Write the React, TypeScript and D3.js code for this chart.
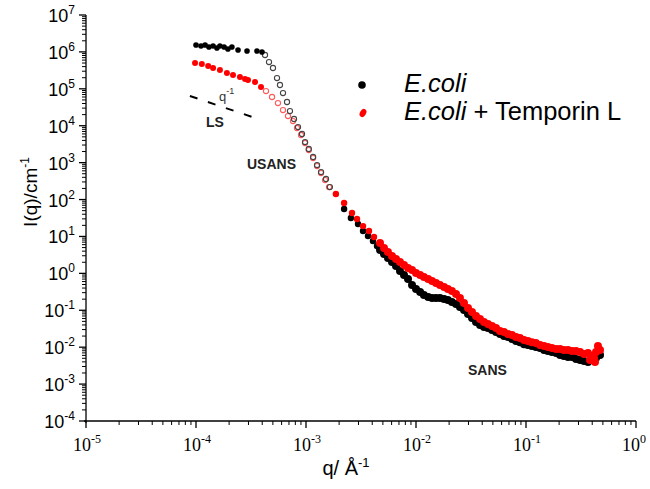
import React from "react";
import * as d3 from "d3";

const width = 650;
const height = 489;
const space = { left: 86, right: 636, top: 15, bottom: 421 };

// E.coli - light scattering (filled)
const ecoliLsQ = [1.0e-4, 1.11e-4, 1.21e-4, 1.31e-4, 1.43e-4, 1.55e-4, 1.65e-4, 1.8e-4, 1.95e-4, 2.12e-4, 2.41e-4, 2.91e-4, 3.58e-4, 3.98e-4];
const ecoliLsI = [1.54e6, 1.45e6, 1.54e6, 1.36e6, 1.45e6, 1.28e6, 1.45e6, 1.36e6, 1.2e6, 1.36e6, 1.13e6, 1.06e6, 1.06e6, 9.9e5];
// E.coli - USANS (open)
const ecoliUsansQ = [4.24e-4, 4.61e-4, 5.01e-4, 5.45e-4, 5.8e-4, 6.18e-4, 6.72e-4, 7.15e-4, 7.78e-4, 8.46e-4, 9.2e-4, 9.8e-4, 1.06e-3, 1.16e-3, 1.26e-3, 1.37e-3, 1.52e-3, 1.65e-3];
const ecoliUsansI = [8.24e5, 5.32e5, 3.66e5, 1.96e5, 1.27e5, 7.69e4, 4.39e4, 2.5e4, 1.52e4, 9.2e3, 5.96e3, 3.61e3, 2.34e3, 1.42e3, 861, 556, 360, 218];
// E.coli - SANS start (filled)
const ecoliMidQ = [2.22e-3, 2.56e-3, 2.97e-3, 3.3e-3, 3.66e-3, 4.06e-3, 4.42e-3];
const ecoliMidI = [55.3, 31.5, 21.7, 14.0, 10.3, 7.5, 5.5];

// E.coli + Temporin L
const temporinLsQ = [9.8e-5, 1.13e-4, 1.29e-4, 1.43e-4, 1.65e-4, 1.91e-4, 2.17e-4, 2.51e-4, 2.79e-4, 2.97e-4, 3.44e-4, 3.9e-4];
const temporinLsI = [5.0e5, 4.7e5, 4.15e5, 3.66e5, 3.23e5, 2.68e5, 2.37e5, 2.09e5, 1.85e5, 1.73e5, 1.53e5, 1.12e5];
const temporinUsansQ = [4.33e-4, 4.91e-4, 5.56e-4, 6.18e-4, 6.86e-4, 7.62e-4, 8.28e-4, 9.01e-4, 9.8e-4, 1.06e-3, 1.16e-3, 1.26e-3, 1.37e-3, 1.49e-3, 1.62e-3];
const temporinUsansI = [8.71e4, 6.0e4, 4.12e4, 2.66e4, 1.83e4, 1.34e4, 8.67e3, 5.6e3, 3.4e3, 2.19e3, 1.33e3, 809, 523, 337, 218];
const temporinMidQ = [1.87e-3, 2.22e-3, 2.62e-3, 2.91e-3, 3.3e-3, 3.74e-3, 4.15e-3];
const temporinMidI = [141, 80.4, 43.1, 29.6, 19.1, 14.0, 9.64];
const temporinTailQ = [0.382, 0.424, 0.451, 0.415];
const temporinTailI = [0.00447, 0.00394, 0.0107, 0.00507];

// SANS, shared q grid
const sansQ = [4.71e-3, 5.12e-3, 5.56e-3, 6.05e-3, 6.58e-3, 7.15e-3, 7.78e-3, 8.46e-3, 9.2e-3, 1.0e-2, 1.09e-2, 1.18e-2, 1.29e-2, 1.4e-2, 1.52e-2, 1.65e-2, 1.8e-2, 1.95e-2, 2.12e-2, 2.31e-2, 2.51e-2, 2.73e-2, 2.97e-2, 3.23e-2, 3.51e-2, 3.82e-2, 4.15e-2, 4.51e-2, 4.91e-2, 5.34e-2, 5.8e-2, 6.31e-2, 6.86e-2, 7.46e-2, 8.11e-2, 8.81e-2, 9.59e-2, 0.104, 0.113, 0.123, 0.134, 0.146, 0.158, 0.172, 0.188, 0.204, 0.221, 0.241, 0.262, 0.285, 0.31, 0.337, 0.366, 0.398, 0.433, 0.471];
const ecoliSansI = [4.28, 3.33, 2.6, 2.02, 1.58, 1.15, 0.9, 0.701, 0.482, 0.376, 0.311, 0.258, 0.228, 0.214, 0.214, 0.214, 0.201, 0.189, 0.167, 0.147, 0.122, 0.101, 0.0789, 0.0615, 0.0479, 0.0397, 0.0351, 0.033, 0.029, 0.0256, 0.0226, 0.02, 0.0188, 0.0166, 0.0146, 0.0137, 0.0121, 0.0114, 0.0107, 0.0101, 0.00946, 0.00834, 0.00784, 0.00736, 0.00692, 0.00611, 0.00574, 0.0054, 0.0054, 0.00476, 0.00447, 0.0042, 0.00394, 0.00447, 0.00507, 0.00611];
const temporinSansI = [6.62, 4.85, 3.78, 2.94, 2.44, 2.02, 1.68, 1.39, 1.23, 1.02, 0.9, 0.794, 0.701, 0.618, 0.546, 0.482, 0.426, 0.376, 0.331, 0.275, 0.214, 0.157, 0.115, 0.0894, 0.0697, 0.0578, 0.0479, 0.0423, 0.0373, 0.033, 0.0273, 0.0256, 0.0226, 0.0213, 0.0188, 0.0177, 0.0156, 0.0146, 0.0137, 0.0129, 0.0114, 0.0107, 0.0101, 0.00946, 0.00889, 0.00889, 0.00834, 0.00834, 0.00784, 0.00784, 0.00736, 0.0065, 0.00692, 0.00574, 0.00736, 0.00834];

// q^-1 guide line
const guideQ = [8.8e-5, 3.2e-4];
const guideI = [6.4e4, 1.75e4];

const xExponents = [-5, -4, -3, -2, -1, 0];
const yExponents = [-4, -3, -2, -1, 0, 1, 2, 3, 4, 5, 6, 7];

const sans = "'Liberation Sans', Arial, sans-serif";
const serif = "'Liberation Serif', 'Times New Roman', serif";

const x = d3.scaleLog().domain([1e-5, 1]).range([space.left, space.right]);
const y = d3.scaleLog().domain([1e-4, 1e7]).range([space.bottom, space.top]);

const zip = (q: number[], I: number[]) => q.map((d, i) => [d, I[i]]);
const minors = (lo: number, hi: number) =>
  d3.range(lo, hi).flatMap((e) => d3.range(2, 10).map((m) => m * Math.pow(10, e)));

const Dots = ({ data, r, fill, stroke }: any) => (
  <g>
    {data.map((d: number[], i: number) => (
      <circle
        key={i}
        cx={x(d[0])}
        cy={y(d[1])}
        r={r}
        fill={fill}
        stroke={stroke || "none"}
        strokeWidth={stroke ? 1.1 : 0}
      />
    ))}
  </g>
);

export default function App() {
  const guide = d3.line<number[]>().x((d) => x(d[0])).y((d) => y(d[1]))(zip(guideQ, guideI));

  return (
    <svg
      width={width}
      height={height}
      viewBox={`0 0 ${width} ${height}`}
      style={{ position: "absolute", left: 0, top: 0, background: "#fff" }}
    >
      {/* y axis */}
      <g stroke="#000" strokeWidth={1.3}>
        <line x1={space.left} x2={space.left} y1={space.top} y2={space.bottom + 2} />
        {yExponents.map((e) => (
          <line key={e} x1={space.left - 7} x2={space.left} y1={y(Math.pow(10, e))} y2={y(Math.pow(10, e))} />
        ))}
        {minors(-4, 7).map((v, i) => (
          <line key={i} x1={space.left - 4} x2={space.left} y1={y(v)} y2={y(v)} strokeWidth={1} />
        ))}
      </g>
      <g fontFamily={sans} fontSize={18} fill="#000">
        {yExponents.map((e) => (
          <text key={e} x={75} y={y(Math.pow(10, e)) + 7} textAnchor="end">
            10<tspan dy={-8} fontSize={12}>{e}</tspan>
          </text>
        ))}
      </g>

      {/* x axis */}
      <g stroke="#000" strokeWidth={1.3}>
        <line x1={space.left - 2} x2={space.right} y1={space.bottom} y2={space.bottom} />
        {xExponents.map((e) => (
          <line key={e} x1={x(Math.pow(10, e))} x2={x(Math.pow(10, e))} y1={space.bottom} y2={space.bottom + 7} />
        ))}
        {minors(-5, 0).map((v, i) => (
          <line key={i} x1={x(v)} x2={x(v)} y1={space.bottom} y2={space.bottom + 4} strokeWidth={1} />
        ))}
      </g>
      <g fontFamily={serif} fontSize={18} fill="#000">
        {xExponents.map((e) => (
          <text key={e} x={x(Math.pow(10, e)) + (e === 0 ? -2 : 1)} y={451} textAnchor="middle">
            10<tspan dy={-8} fontSize={12}>{e}</tspan>
          </text>
        ))}
      </g>

      {/* axis titles */}
      <text x={346} y={475} textAnchor="middle" fontFamily={sans} fontSize={20}>
        q/ Å<tspan dy={-8} fontSize={13}>-1</tspan>
      </text>
      <text transform="translate(37,192) rotate(-90)" textAnchor="middle" fontFamily={sans} fontSize={19}>
        I(q)/cm<tspan dy={-8} fontSize={12}>-1</tspan>
      </text>

      {/* data */}
      <Dots data={zip(temporinUsansQ, temporinUsansI)} r={2.6} fill="#fff" stroke="#ff5a5a" />
      <Dots data={zip(ecoliUsansQ, ecoliUsansI)} r={2.6} fill="none" stroke="#444" />
      <Dots data={zip(ecoliLsQ, ecoliLsI)} r={2.8} fill="#000" />
      <Dots data={zip(ecoliMidQ, ecoliMidI)} r={3.2} fill="#000" />
      <Dots data={zip(sansQ, ecoliSansI)} r={4} fill="#000" />
      <Dots data={zip(temporinLsQ, temporinLsI)} r={3} fill="#ff0000" />
      <Dots data={zip(temporinMidQ, temporinMidI)} r={3.2} fill="#ff0000" />
      <Dots data={zip(sansQ, temporinSansI)} r={4} fill="#ff0000" />
      <Dots data={zip(temporinTailQ, temporinTailI)} r={4} fill="#ff0000" />

      {/* q^-1 guide */}
      <path d={guide || ""} stroke="#000" strokeWidth={2} strokeDasharray="8 11" fill="none" />
      <text x={219} y={101} fontFamily={sans} fontSize={13} fill="#333">
        q<tspan dy={-7} fontSize={9}>-1</tspan>
      </text>

      {/* region labels */}
      <g fontFamily={sans} fontSize={14} fontWeight="bold" fill="#222">
        <text x={206} y={127}>LS</text>
        <text x={247} y={169}>USANS</text>
        <text x={468} y={375}>SANS</text>
      </g>

      {/* legend */}
      <circle cx={362} cy={85} r={3.8} fill="#000" />
      <ellipse cx={363} cy={113} rx={3} ry={4.3} fill="#ff0000" transform="rotate(30 363 113)" />
      <g fontFamily={sans} fontSize={25.5} fill="#000">
        <text x={404} y={92}>
          <tspan fontStyle="italic">E.coli</tspan>
        </text>
        <text x={404} y={120}>
          <tspan fontStyle="italic">E.coli</tspan> + Temporin L
        </text>
      </g>
    </svg>
  );
}
